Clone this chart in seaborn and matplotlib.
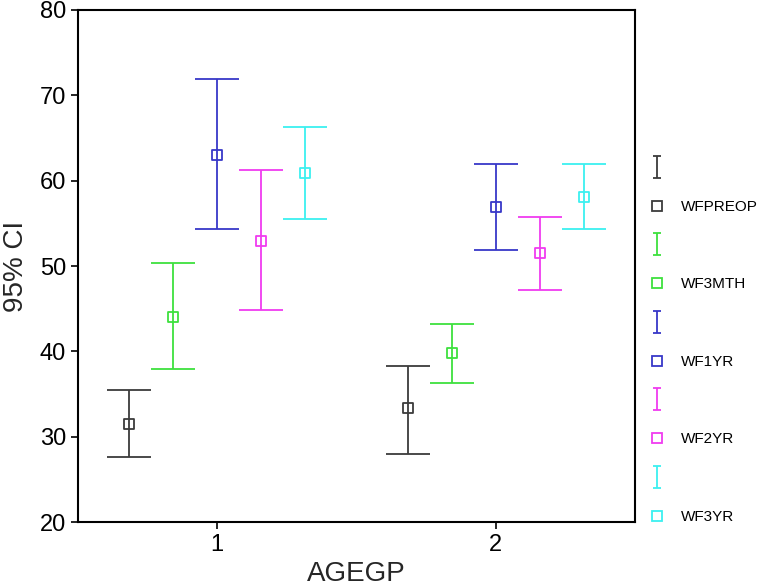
"""95% CI error bars of WF scores by age group."""
import matplotlib
matplotlib.use("Agg")
import matplotlib.pyplot as plt
import numpy as np
import pandas as pd
import seaborn as sns
from matplotlib.lines import Line2D
from matplotlib.path import Path

AGE_GROUPS = [1, 2]
SERIES = ["WFPREOP", "WF3MTH", "WF1YR", "WF2YR", "WF3YR"]
COLORS = ["#3c3c3c", "#3ee03e", "#3838c8", "#f03cf0", "#3cf0f0"]

MEANS = {
    "WFPREOP": [31.5, 33.4],
    "WF3MTH": [44.0, 39.8],
    "WF1YR": [63.0, 56.9],
    "WF2YR": [52.9, 51.5],
    "WF3YR": [60.9, 58.1],
}
LOWER = {
    "WFPREOP": [27.6, 28.0],
    "WF3MTH": [37.9, 36.3],
    "WF1YR": [54.3, 51.9],
    "WF2YR": [44.8, 47.2],
    "WF3YR": [55.5, 54.3],
}
UPPER = {
    "WFPREOP": [35.5, 38.3],
    "WF3MTH": [50.4, 43.2],
    "WF1YR": [71.9, 61.9],
    "WF2YR": [61.3, 55.7],
    "WF3YR": [66.3, 61.9],
}

rows = []
for i, s in enumerate(SERIES):
    for j, g in enumerate(AGE_GROUPS):
        rows.append({"series": s, "agegp": g, "pos": g + (i - 2) * 0.158,
                     "mean": MEANS[s][j], "lo": LOWER[s][j], "hi": UPPER[s][j]})
df = pd.DataFrame(rows)

sns.set_style("ticks")
plt.rcParams["font.family"] = ["Liberation Sans", "DejaVu Sans"]

fig = plt.figure(figsize=(7.62, 5.88), dpi=100)
ax = fig.add_axes([0.1024, 0.1122, 0.7309, 0.8708])

palette = dict(zip(SERIES, COLORS))
for s in SERIES:
    d = df[df["series"] == s]
    ax.errorbar(d["pos"], d["mean"], yerr=[d["mean"] - d["lo"], d["hi"] - d["mean"]],
                fmt="none", ecolor=palette[s], elinewidth=1.3, capsize=16, capthick=1.3)
sns.scatterplot(data=df, x="pos", y="mean", hue="series", palette=palette,
                marker="s", s=50, linewidth=1.3, legend=False, ax=ax, zorder=3)
pts = ax.collections[-1]
pts.set_facecolor("none")
pts.set_edgecolor([palette[s] for s in df["series"]])

ax.set_xlim(0.5, 2.5)
ax.set_ylim(20, 80)
ax.set_xticks(AGE_GROUPS)
ax.set_yticks(np.arange(20, 81, 10))
ax.tick_params(labelsize=17, length=5, width=1.2, color="black", labelcolor="black")
for sp in ax.spines.values():
    sp.set_visible(True)
    sp.set_color("black")
    sp.set_linewidth(1.5)
ax.set_xlabel("AGEGP", fontsize=20, labelpad=4)
ax.set_ylabel("95% CI", fontsize=20, labelpad=8)

# legend: an error-bar glyph and a square for each series
ibar = Path([(-0.33, 1), (0.33, 1), (0, 1), (0, -1), (-0.33, -1), (0.33, -1)],
            [Path.MOVETO, Path.LINETO, Path.MOVETO, Path.LINETO, Path.MOVETO, Path.LINETO])
handles, labels = [], []
for s, c in zip(SERIES, COLORS):
    handles.append(Line2D([], [], linestyle="none", marker=ibar, markersize=16,
                          markerfacecolor="none", markeredgecolor=c, markeredgewidth=1.3))
    labels.append("")
    handles.append(Line2D([], [], linestyle="none", marker="s", markersize=7,
                          markerfacecolor="none", markeredgecolor=c, markeredgewidth=1.3))
    labels.append(s)
fig.legend(handles, labels, loc="upper left", bbox_to_anchor=(0.842, 0.739),
           frameon=False, fontsize=11, labelspacing=1.62, handlelength=1.0,
           handletextpad=1.1, borderpad=0, labelcolor="black")

fig.savefig("out.png", dpi=100)
